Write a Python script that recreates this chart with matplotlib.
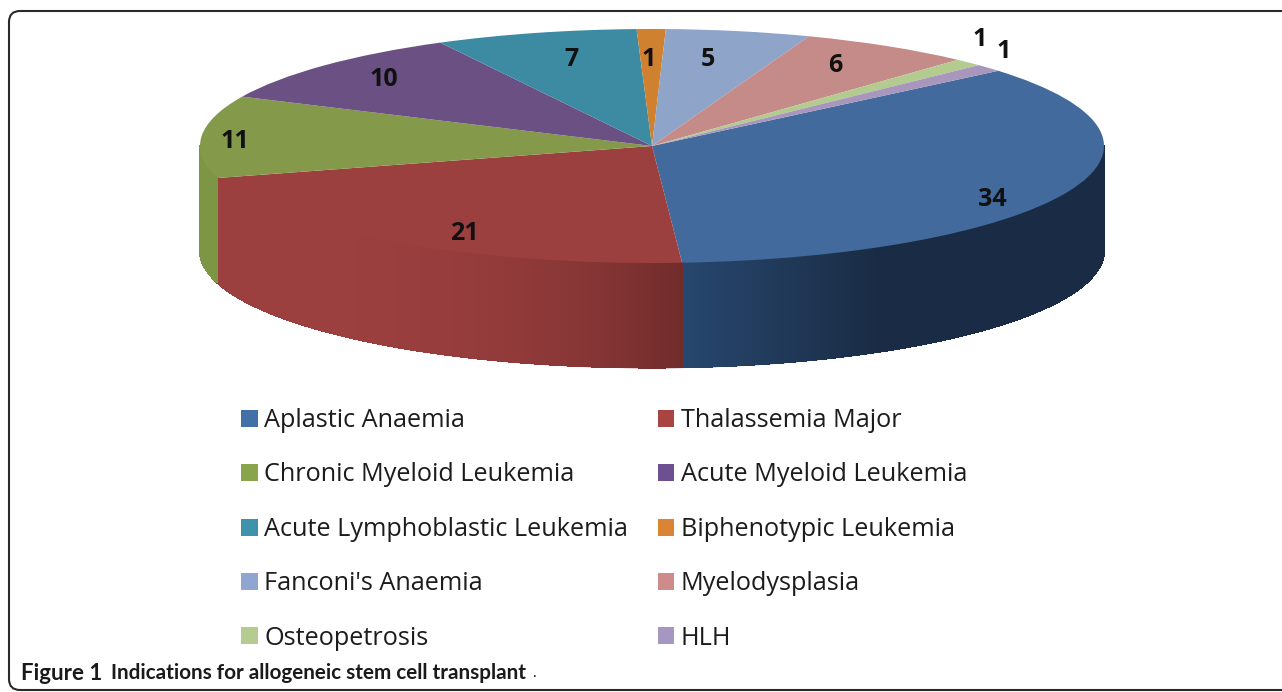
import numpy as np
import matplotlib
matplotlib.use("Agg")
import matplotlib.pyplot as plt
from matplotlib.patches import FancyBboxPatch, Patch
from matplotlib.collections import LineCollection
from matplotlib.transforms import Affine2D
from matplotlib.colors import to_rgb

categories = ["Aplastic Anaemia", "Thalassemia Major", "Chronic Myeloid Leukemia",
              "Acute Myeloid Leukemia", "Acute Lymphoblastic Leukemia", "Biphenotypic Leukemia",
              "Fanconi's Anaemia", "Myelodysplasia", "Osteopetrosis", "HLH"]
values = [34, 21, 11, 10, 7, 1, 5, 6, 1, 1]
top_colors = ["#426a9c", "#9c3f3f", "#84994a", "#6a5083", "#3d8aa3",
              "#d0812f", "#8ea4c9", "#c58b88", "#b4cb8f", "#a896bd"]
legend_colors = ["#4470a8", "#a84442", "#88a44c", "#6c5090", "#3e93ab",
                 "#d98533", "#8fa7d0", "#cd8c8a", "#b5cc91", "#a696c2"]
wall_left = {0: "#27476e", 1: "#9c3f3f", 2: "#7d9645"}
wall_right = {0: "#1a2c45", 1: "#702c2b", 2: "#7d9645"}
label_pos = [(992, 200), (464, 234), (235, 142), (384, 79), (571, 59),
             (649, 59), (708, 59), (835, 66), (980, 40), (1004, 51)]

W, H = 1282, 692
CX, CY, RX, RY, DEPTH = 652, 146, 452, 117, 104.5
START = 40

fig = plt.figure(figsize=(W / 100, H / 100), dpi=100, facecolor="white")
ax = fig.add_axes([0, 0, 1, 1])
px = Affine2D().scale(1, -1).translate(0, H)  # pixel coordinates, y down

# frame, open at the right edge
frame = FancyBboxPatch((9, 11), 1500, 679, boxstyle="round,pad=0,rounding_size=11",
                       transform=px, fc="white", ec="#2a2a2a", lw=1.5, zorder=0, clip_on=True)
ax.add_patch(frame)

# pie top via the library, unit circle stretched to an ellipse
wedges, _ = ax.pie(values, colors=top_colors, startangle=START, counterclock=False,
                   radius=1, center=(0, 0), wedgeprops=dict(lw=0, zorder=3), frame=False)
ax.set_aspect("auto")
ax.set_xlim((0 - CX) / RX, (W - CX) / RX)
ax.set_ylim((CY - H) / RY, CY / RY)
ax.set_axis_off()

# side wall, from the same values
edges = START - np.cumsum([0] + values) / sum(values) * 360
d = DEPTH / RY
for i in range(len(values)):
    hi, lo = edges[i], edges[i + 1]
    a, b = min(hi, 0), max(lo, -180)
    if a <= b or i not in wall_left:
        continue
    th = np.linspace(a, b, max(int(a - b) * 3, 2) + 1)
    c0, c1 = np.array(to_rgb(wall_left[i])), np.array(to_rgb(wall_right[i]))
    xs = np.cos(np.radians(th))
    ys = np.sin(np.radians(th))
    xmin, xmax = xs.min(), xs.max()
    segs, cols = [], []
    for j in range(len(th) - 1):
        xm = 0.5 * (xs[j] + xs[j + 1])
        t = (xm - xmin) / (xmax - xmin)
        t = min(1, t * 2.2) if i == 0 else t ** 3
        col = c0 + (c1 - c0) * t
        ax.fill([xs[j], xs[j + 1], xs[j + 1], xs[j]],
                [ys[j], ys[j + 1], ys[j + 1] - d, ys[j] - d],
                color=col, lw=0.8, antialiased=False, zorder=2)
        segs.append([(xs[j], ys[j] - d), (xs[j + 1], ys[j + 1] - d)])
        cols.append(col)
    ax.add_collection(LineCollection(segs, colors=cols, linewidths=1.2, antialiased=True, zorder=2))

# value labels
for v, (x, y) in zip(values, label_pos):
    ax.text(x, y, str(v), transform=px, ha="center", va="center", fontsize=18,
            fontweight="bold", family="Open Sans", color="#111111", zorder=5)

# legend: two columns, filled row by row
order = [0, 2, 4, 6, 8, 1, 3, 5, 7, 9]
handles = [Patch(fc=legend_colors[i], ec="none") for i in order]
labels = [categories[i] for i in order]
leg = ax.legend(handles, labels, ncols=2, loc="upper left",
                bbox_to_anchor=(241 / W, 1 - 408 / H), bbox_transform=fig.transFigure,
                frameon=False, prop=dict(family="Open Sans", size=18.2),
                handlelength=0.66, handleheight=0.66, handletextpad=0.26,
                columnspacing=1.17, labelspacing=1.165, borderpad=0, borderaxespad=0,
                labelcolor="#1c1c1c")

# caption
ax.text(21, 673, "Figure 1", transform=px, ha="left", va="center", fontsize=16,
        fontweight="bold", family="Lato", color="#1a1a1a")
ax.text(111, 673, "Indications for allogeneic stem cell transplant", transform=px, ha="left",
        va="center", fontsize=14.9, fontweight="bold", family="Lato", color="#1a1a1a")
ax.text(532, 673, ".", transform=px, ha="left", va="center", fontsize=11,
        family="Lato", color="#1a1a1a")

fig.savefig("out.png", dpi=100, facecolor="white")
